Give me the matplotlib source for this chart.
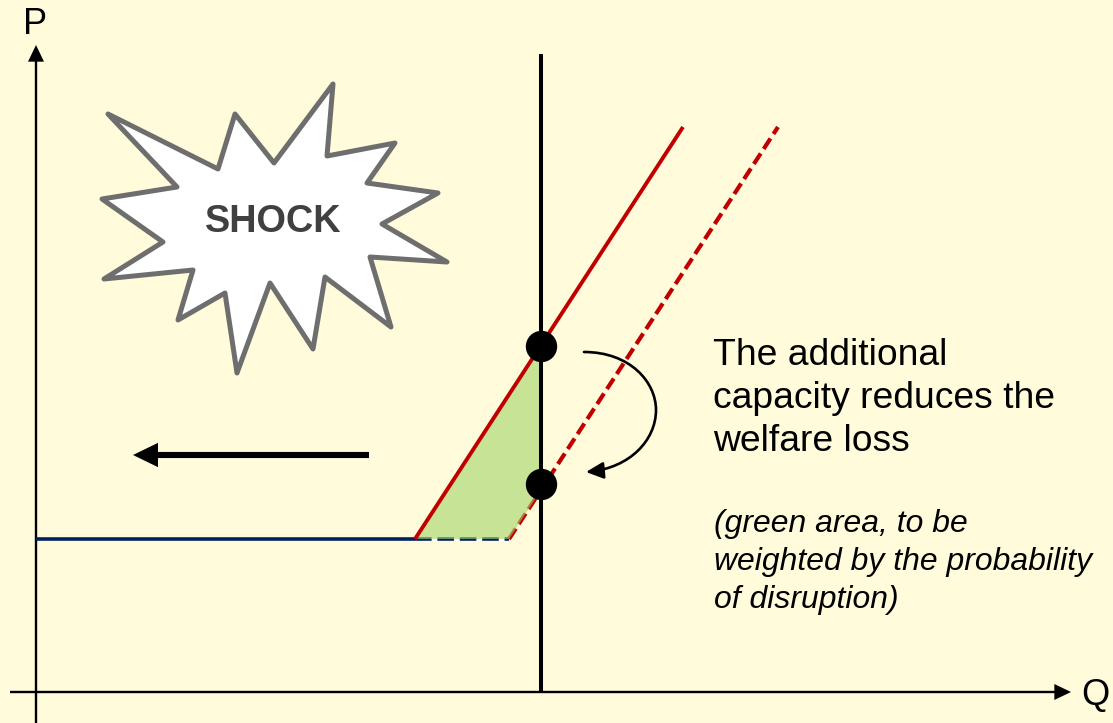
import matplotlib
matplotlib.use("Agg")
import matplotlib.pyplot as plt
from matplotlib.patches import Polygon, FancyArrowPatch
from matplotlib.path import Path

BG = "#FFFBDB"
plt.rcParams["font.family"] = ["Liberation Sans", "DejaVu Sans"]

star_x = [108,218,235,274,333,327,395,367,438,382,447,370,391,325,313,270,237,225,178,193,104,163,102,177]
star_y = [114,169,114,163,84,156,143,183,193,224,262,257,327,277,349,283,373,293,320,270,279,242,199,187]
green_x = [415,541,541,509]
green_y = [539,345,490,539]
supply_x = [415,683]
supply_y = [539,127]
shifted_x = [509,778]
shifted_y = [539,127]
price_floor = 539
capacity_x = 541
dots_y = [346,484]
text_main = "The additional\ncapacity reduces the\nwelfare loss"
text_note = "(green area, to be\nweighted by the probability\nof disruption)"

fig = plt.figure(figsize=(11.13,7.23), dpi=100, facecolor=BG)
ax = fig.add_axes([0,0,1,1])
ax.set_xlim(0,1113); ax.set_ylim(723,0); ax.axis("off")

ax.add_patch(Polygon(list(zip(star_x,star_y)), closed=True, fc="white", ec="#6E6E6E", lw=3.6, joinstyle="round", zorder=2))
ax.text(273,222,"SHOCK",fontsize=27.3,fontweight="bold",color="#404040",ha="center",va="center",zorder=3)

# axes
axis_style = "simple,tail_width=1.7,head_width=11.5,head_length=12"
ax.add_patch(FancyArrowPatch((36,723),(36,45),arrowstyle=axis_style,mutation_scale=1,lw=0,color="black",shrinkA=0,shrinkB=0,zorder=3))
ax.add_patch(FancyArrowPatch((10,692),(1071,692),arrowstyle=axis_style,mutation_scale=1,lw=0,color="black",shrinkA=0,shrinkB=0,zorder=3))
ax.text(35,24,"P",fontsize=26,ha="center",va="center")
ax.text(1095,695,"Q",fontsize=26,ha="center",va="center")

# curves
ax.plot([36,supply_x[0]],[price_floor,price_floor],color="#002060",lw=2.6,solid_capstyle="butt",zorder=3)
ax.plot([supply_x[0],shifted_x[0]],[price_floor,price_floor],color="white",lw=2.6,solid_capstyle="butt",zorder=3)
ax.plot([supply_x[0],shifted_x[0]],[price_floor,price_floor],color="#002060",lw=2.6,dashes=(4.6,1.6),dash_capstyle="butt",zorder=3)
ax.plot(shifted_x,shifted_y,color="#C00000",lw=3.0,dashes=(3.0,1.3),dash_capstyle="butt",zorder=3)

# translucent welfare-loss area tints the lines it overlaps
ax.add_patch(Polygon(list(zip(green_x,green_y)), closed=True, fc="#A3D568", ec="none", alpha=0.6, zorder=4))

ax.plot(supply_x,supply_y,color="#C00000",lw=2.8,solid_capstyle="butt",zorder=4.5)
ax.plot([capacity_x,capacity_x],[54,692],color="black",lw=2.9,solid_capstyle="butt",zorder=5)
ax.scatter([capacity_x]*len(dots_y),dots_y,s=510,color="black",zorder=6,linewidths=0)

# thick left arrow
ax.add_patch(FancyArrowPatch((369,455),(133,455),arrowstyle="simple,tail_width=4.4,head_width=17.5,head_length=18",mutation_scale=1,lw=0,color="black",shrinkA=0,shrinkB=0,zorder=4))

# curved arrow
verts = [(584,352),(630,352),(656,382),(656,410),(656,440),(630,468),(586,472)]
codes = [Path.MOVETO,Path.CURVE4,Path.CURVE4,Path.CURVE4,Path.CURVE4,Path.CURVE4,Path.CURVE4]
ax.add_patch(FancyArrowPatch(path=Path(verts,codes),arrowstyle="-|>,head_length=0.75,head_width=0.36",mutation_scale=14,lw=1.9,color="black",shrinkA=0,shrinkB=0,zorder=5))

ax.text(713,398.5,text_main,fontsize=26.8,ha="left",va="center",linespacing=1.30,color="black")
ax.text(714.5,562,text_note,fontsize=22.95,style="italic",ha="left",va="center",linespacing=1.35,color="black")

fig.savefig("out.png",dpi=100,facecolor=BG)
